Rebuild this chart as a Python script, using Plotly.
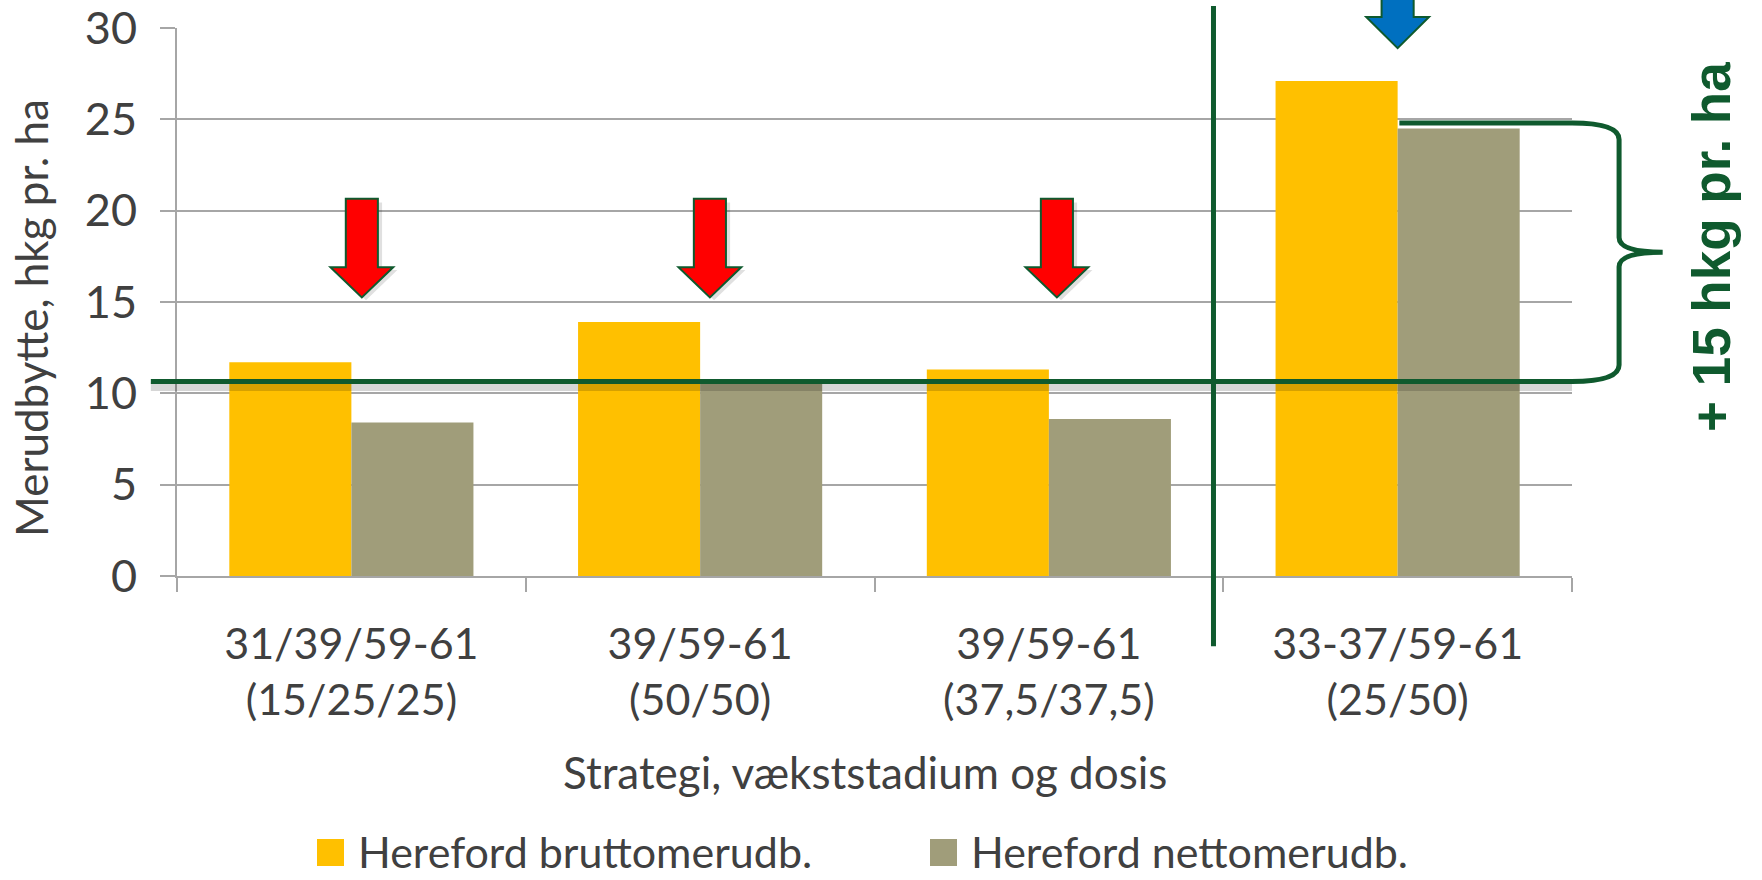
import plotly.graph_objects as go

# ---- data ----
categories = ["31/39/59-61<br>(15/25/25)", "39/59-61<br>(50/50)",
              "39/59-61<br>(37,5/37,5)", "33-37/59-61<br>(25/50)"]
brutto = [11.7, 13.9, 11.3, 27.1]
netto = [8.4, 10.6, 8.6, 24.5]
series_names = ["Hereford bruttomerudb.", "Hereford nettomerudb."]
series_colors = ["#FFC000", "#A09D7A"]
y_ticks = [0, 5, 10, 15, 20, 25, 30]
ref_level = 10.65      # green reference line
brace_top = 24.8
annot_text = "+ 15 hkg pr. ha"
x_title = "Strategi, vækststadium og dosis"
y_title = "Merudbytte, hkg pr. ha"

GREEN = "#0F5A2E"
GRID = "#A6A6A6"
TXT = "#404040"
FONT = "Lato, 'Open Sans', sans-serif"

XR = [-0.5, 3.5]
YR = [0, 30]
W, H = 1762, 880
ML, MR, MT, MB = 177, 190, 28, 304
PW, PH = W - ML - MR, H - MT - MB


def px(x):
    return (x - XR[0]) / (XR[1] - XR[0])


def py(y):
    return (y - YR[0]) / (YR[1] - YR[0])


xs = list(range(len(categories)))
fig = go.Figure()
fig.add_trace(go.Bar(x=xs, y=brutto, name=series_names[0],
                     marker=dict(color=series_colors[0], line=dict(width=0)),
                     showlegend=False))
fig.add_trace(go.Bar(x=xs, y=netto, name=series_names[1],
                     marker=dict(color=series_colors[1], line=dict(width=0)),
                     showlegend=False))

shapes = []


def arrow_path(xc, ytop, yhb, ytip, sw=0.046, hw=0.09):
    pts = [(xc - sw, ytop), (xc + sw, ytop), (xc + sw, yhb), (xc + hw, yhb),
           (xc, ytip), (xc - hw, yhb), (xc - sw, yhb)]
    return "M " + " L ".join(f"{px(a):.5f},{py(b):.5f}" for a, b in pts) + " Z"


# reference line shadow + brace
dx = 0.135
shadow = (f"M {px(-0.575):.5f},{py(ref_level - 0.28):.5f} L {px(3.5):.5f},{py(ref_level - 0.28):.5f}")
shapes.append(dict(type="path", xref="paper", yref="paper", path=shadow,
                   line=dict(color="rgba(0,0,0,0.16)", width=9), layer="above"))
mid = (ref_level + brace_top) / 2
xv = 3.5 + dx
xt = xv + 0.125
brace = (f"M {px(-0.575):.5f},{py(ref_level):.5f} L {px(3.5):.5f},{py(ref_level):.5f} "
         f"Q {px(xv):.5f},{py(ref_level):.5f} {px(xv):.5f},{py(ref_level + 0.9):.5f} "
         f"L {px(xv):.5f},{py(mid - 0.8):.5f} "
         f"Q {px(xv):.5f},{py(mid):.5f} {px(xt):.5f},{py(mid):.5f} "
         f"Q {px(xv):.5f},{py(mid):.5f} {px(xv):.5f},{py(mid + 0.8):.5f} "
         f"L {px(xv):.5f},{py(brace_top - 0.9):.5f} "
         f"Q {px(xv):.5f},{py(brace_top):.5f} {px(3.5):.5f},{py(brace_top):.5f} "
         f"L {px(3.005):.5f},{py(brace_top):.5f}")
shapes.append(dict(type="path", xref="paper", yref="paper", path=brace,
                   line=dict(color=GREEN, width=5), layer="above"))

# vertical separator
shapes.append(dict(type="line", xref="paper", yref="paper",
                   x0=px(2.472), x1=px(2.472), y0=1.04, y1=-0.128,
                   line=dict(color=GREEN, width=5), layer="above"))

# arrows (shadow then arrow)
arrow_x = [0.03, 1.028, 2.023]
for xc in arrow_x:
    shapes.append(dict(type="path", xref="paper", yref="paper",
                       path=arrow_path(xc + 0.012, 20.45, 16.75, 15.1),
                       fillcolor="rgba(0,0,0,0.12)", line=dict(width=0), layer="above"))
    shapes.append(dict(type="path", xref="paper", yref="paper",
                       path=arrow_path(xc, 20.65, 16.9, 15.25),
                       fillcolor="#FF0000", line=dict(color=GREEN, width=2), layer="above"))
shapes.append(dict(type="path", xref="paper", yref="paper",
                   path=arrow_path(3.0, 33, 30.6, 28.9),
                   fillcolor="#0070C0", line=dict(color=GREEN, width=2), layer="above"))

# custom legend
leg_y = (MT + PH - 879) / PH
sq_y0 = (MT + PH - 866) / PH
sq_y1 = (MT + PH - 839) / PH
sq_w = 27 / PW
leg_x = [(317 - ML) / PW, (930 - ML) / PW]
annotations = []
for i in range(2):
    shapes.append(dict(type="rect", xref="paper", yref="paper",
                       x0=leg_x[i], x1=leg_x[i] + sq_w, y0=sq_y0, y1=sq_y1,
                       fillcolor=series_colors[i], line=dict(width=0)))
    annotations.append(dict(xref="paper", yref="paper", x=leg_x[i] + sq_w + 12 / PW,
                            y=leg_y, xanchor="left", yanchor="bottom",
                            text=series_names[i], showarrow=False,
                            font=dict(family=FONT, size=43, color=TXT)))

annotations.append(dict(xref="paper", yref="paper", x=(1711 - ML) / PW,
                        y=(MT + PH - 247) / PH, text=f"<b>{annot_text}</b>",
                        textangle=-90, showarrow=False, xanchor="center", yanchor="middle",
                        font=dict(family="'Liberation Sans', Arial, sans-serif", size=53, color=GREEN)))
# axis titles
annotations.append(dict(xref="paper", yref="paper", x=(865 - ML) / PW, y=(MT + PH - 772) / PH,
                        text=x_title, showarrow=False, xanchor="center", yanchor="middle",
                        font=dict(family=FONT, size=44, color=TXT)))
annotations.append(dict(xref="paper", yref="paper", x=(31 - ML) / PW, y=(MT + PH - 318) / PH,
                        text=y_title, textangle=-90, showarrow=False, xanchor="center",
                        yanchor="middle", font=dict(family=FONT, size=44, color=TXT)))

fig.update_layout(
    width=W, height=H,
    margin=dict(l=ML, r=MR, t=MT, b=MB, pad=0, autoexpand=False),
    plot_bgcolor="white", paper_bgcolor="white",
    barmode="group", bargap=0.3, bargroupgap=0,
    font=dict(family=FONT, size=43, color=TXT),
    shapes=shapes, annotations=annotations,
    xaxis=dict(range=XR, tickvals=xs, ticktext=categories, ticks="", automargin=False,
               showline=True, linecolor=GRID, linewidth=2, showgrid=False, zeroline=False,
               tickfont=dict(size=43, color=TXT), ticklabelstandoff=29,
               ticklabeloverflow="allow",
               minor=dict(tickvals=[-0.5, 0.5, 1.5, 2.5, 3.5], ticks="outside", ticklen=14,
                          tickcolor=GRID, tickwidth=2, showgrid=False)),
    yaxis=dict(range=YR, tickvals=y_ticks, ticks="outside", ticklen=15, tickcolor=GRID, tickwidth=2,
               showline=True, linecolor=GRID, linewidth=2, showgrid=True, gridcolor=GRID,
               gridwidth=2, zeroline=False, tickfont=dict(size=45, color=TXT),
               ticklabelstandoff=14, automargin=False, ticklabeloverflow="allow"),
)

fig.write_html("out.html", config={"displayModeBar": False},
               post_script="document.body.style.margin='0px';document.body.style.padding='0px';")
